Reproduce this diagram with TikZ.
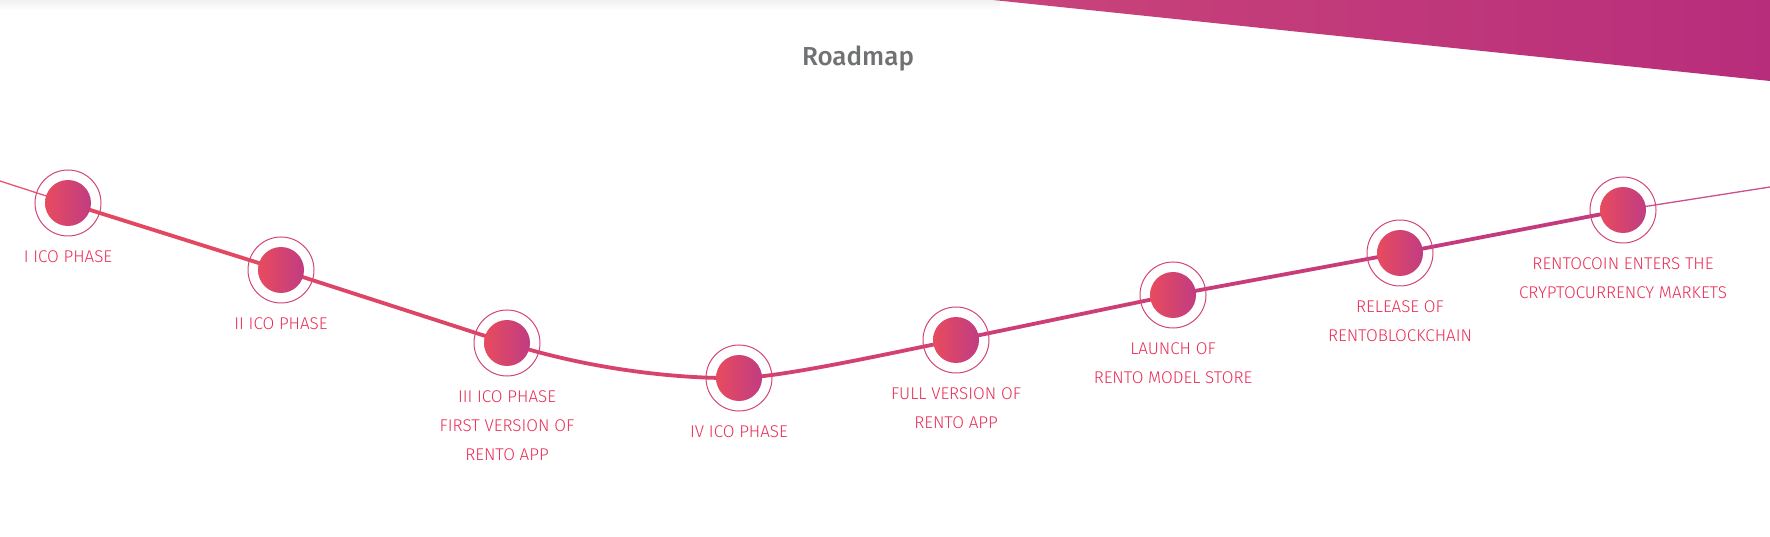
\documentclass[tikz,border=0pt]{standalone}
\usepackage{fontspec}
\setmainfont{Fira Sans}
\newfontfamily\lightfont{Fira Sans Light}
\newfontfamily\titlefont{Fira Sans Medium}
\definecolor{lbl}{HTML}{EA2D55}
\definecolor{ttl}{HTML}{707173}
\definecolor{cl}{HTML}{E84B5E}
\definecolor{cr}{HTML}{C03C82}
\definecolor{ring}{HTML}{D4467A}
\definecolor{bnl}{HTML}{C9447A}
\definecolor{bnr}{HTML}{B82D7B}
\definecolor{s0}{HTML}{E8566E}
\definecolor{s1}{HTML}{E2485F}
\definecolor{s2}{HTML}{DD4566}
\definecolor{s3}{HTML}{D8436C}
\definecolor{s4}{HTML}{D34072}
\definecolor{s5}{HTML}{CE3E76}
\definecolor{s6}{HTML}{C93C7A}
\definecolor{s7}{HTML}{C43A7E}
\definecolor{s8}{HTML}{C8508E}
\begin{document}
\begin{tikzpicture}[x=1pt,y=-1pt,
  dot/.style={circle,minimum size=46pt,inner sep=0pt,left color=cl,right color=cr,draw=none},
  halo/.style={circle,minimum size=66pt,inner sep=0pt,draw=ring,line width=1pt},
  lbl/.style={font=\lightfont\fontsize{17}{29}\selectfont,text=lbl,align=center,inner sep=0pt,anchor=north},
  mainline/.style={line width=3.8pt,line cap=round},
  endline/.style={line width=1.3pt}]
\useasboundingbox (0,0) rectangle (1770,537);
\fill[white] (0,0) rectangle (1770,537);
% top shadow strip
\shade[top color=black!6,bottom color=white] (0,0) rectangle (1000,10);
% top-right banner
\shade[left color=bnl,right color=bnr] (993,0) -- (1770,0) -- (1770,81) -- cycle;
% title
\node[font=\titlefont\fontsize{26}{30}\selectfont,text=ttl] (title) at (858,59) {Roadmap};
% positions
\coordinate (L) at (0,181);
\coordinate (R) at (1770,187);
\coordinate (p1) at (68,203);
\coordinate (p2) at (281,270);
\coordinate (p3) at (507,343);
\coordinate (p4) at (739,378);
\coordinate (p5) at (956,340);
\coordinate (p6) at (1173,295);
\coordinate (p7) at (1400,253);
\coordinate (p8) at (1623,210);
% line
\draw[endline,s0] (L) -- (p1);
\draw[mainline,s1] (p1) -- (p2);
\draw[mainline,s2] (p2) -- (p3);
\draw[mainline,s3] (p3) .. controls (592,370) and (680,379) .. (p4);
\draw[mainline,s4] (p4) .. controls (785,377) and (900,351) .. (p5);
\draw[mainline,s5] (p5) -- (p6);
\draw[mainline,s6] (p6) -- (p7);
\draw[mainline,s7] (p7) -- (p8);
\draw[endline,s8] (p8) -- (R);
% milestones
\foreach \i in {1,...,8}{
  \node[halo] (h\i) at (p\i) {};
  \node[dot] (d\i) at (p\i) {};
}
% labels
\node[lbl] (t1) at ([yshift=-47pt]p1) {I ICO PHASE};
\node[lbl] (t2) at ([yshift=-47pt]p2) {II ICO PHASE};
\node[lbl] (t3) at ([yshift=-47pt]p3) {III ICO PHASE\\FIRST VERSION OF\\RENTO APP};
\node[lbl] (t4) at ([yshift=-47pt]p4) {IV ICO PHASE};
\node[lbl] (t5) at ([yshift=-47pt]p5) {FULL VERSION OF\\RENTO APP};
\node[lbl] (t6) at ([yshift=-47pt]p6) {LAUNCH OF\\RENTO MODEL STORE};
\node[lbl] (t7) at ([yshift=-47pt]p7) {RELEASE OF\\RENTOBLOCKCHAIN};
\node[lbl] (t8) at ([yshift=-47pt]p8) {RENTOCOIN ENTERS THE\\CRYPTOCURRENCY MARKETS};
\end{tikzpicture}
\end{document}
